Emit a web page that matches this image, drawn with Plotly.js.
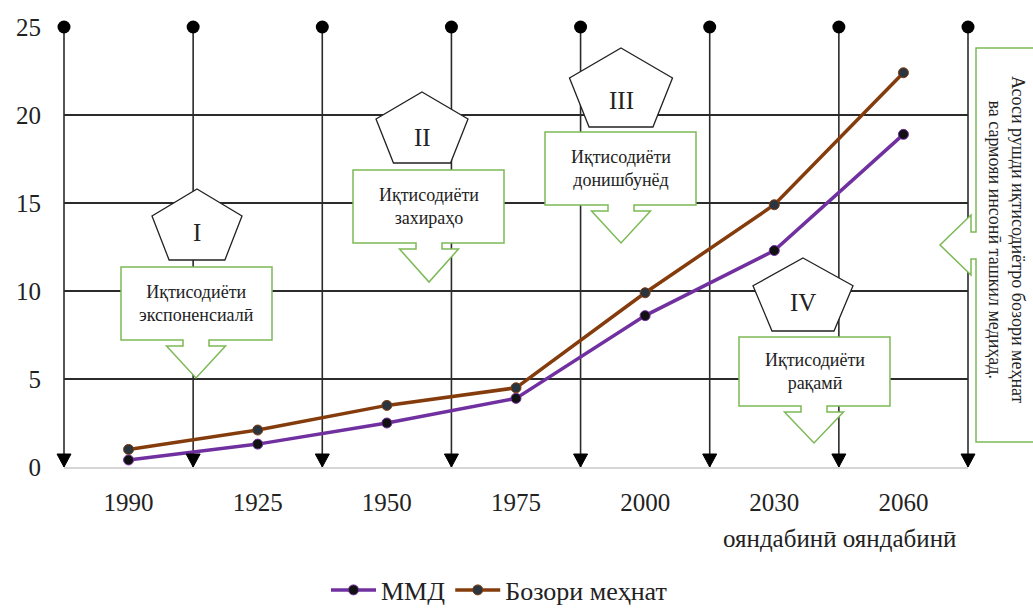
<!DOCTYPE html>
<html>
<head>
<meta charset="utf-8">
<script src="https://cdn.plot.ly/plotly-3.0.1.min.js"></script>
<style>html,body{margin:0;padding:0;background:#fff;}#chart{width:1033px;height:608px;}</style>
</head>
<body>
<div id="chart"></div>
<script>
// ---- data ----
const categories = ['1990', '1925', '1950', '1975', '2000', '2030', '2060'];
const mmdValues = [0.4, 1.3, 2.5, 3.9, 8.6, 12.3, 18.9];
const laborValues = [1.0, 2.1, 3.5, 4.5, 9.9, 14.9, 22.4];
const seriesNames = ['ММД', 'Бозори меҳнат'];
const stageNumerals = ['I', 'II', 'III', 'IV'];
const stageLabels = ['Иқтисодиёти<br>экспоненсиалӣ', 'Иқтисодиёти<br>захираҳо', 'Иқтисодиёти<br>донишбунёд', 'Иқтисодиёти<br>рақамӣ'];
const forecastLabel = 'ояндабинӣ ояндабинӣ';
const sideNote = 'Асоси рушди иқтисодиётро бозори меҳнат<br>ва сармояи инсонӣ ташкил медиҳад.';

// ---- layout geometry ----
const W = 1033, H = 608;
const L = 64, R = 968, T = 27, B = 467;
const px = x => (x - L) / (R - L);
const py = y => (B - y) / (B - T);
const FONT = 'Liberation Serif, Times New Roman, serif';
const GREEN = '#7cb955';
const idx = categories.map((c, i) => i);
const xMin = -0.5, xMax = categories.length - 0.5;
const bounds = [];
for (let i = 0; i <= categories.length; i++) bounds.push(i - 0.5);
const boundPaper = b => (b - xMin) / (xMax - xMin);

const shapes = [];
// vertical lines
bounds.forEach(b => {
  shapes.push({type: 'line', xref: 'paper', yref: 'paper', x0: boundPaper(b), x1: boundPaper(b), y0: 0, y1: 1,
    line: {color: '#2b2b2b', width: 1.6}, layer: 'below'});
  // arrow heads at bottom
  shapes.push({type: 'path', xref: 'paper', yref: 'paper', xsizemode: 'pixel', ysizemode: 'pixel',
    xanchor: boundPaper(b), yanchor: 0, path: 'M -7 13 L 7 13 L 0 0 Z',
    fillcolor: '#000', line: {color: '#000', width: 1}, layer: 'above'});
});

function pentagon(cx, top, w, h) {
  const pts = [[cx, top], [cx + w / 2, top + 0.38 * h], [cx + 0.31 * w, top + h],
               [cx - 0.31 * w, top + h], [cx - w / 2, top + 0.38 * h]];
  return 'M ' + pts.map(p => px(p[0]) + ' ' + py(p[1])).join(' L ') + ' Z';
}
function callout(x0, x1, y0, y1, cx, apex) {
  const pts = [[x0, y0], [x1, y0], [x1, y1], [cx + 13, y1], [cx + 13, y1 + 6], [cx + 29.5, y1 + 6],
    [cx, apex], [cx - 29.5, y1 + 6], [cx - 13, y1 + 6], [cx - 13, y1], [x0, y1]];
  return 'M ' + pts.map(p => px(p[0]) + ' ' + py(p[1])).join(' L ') + ' Z';
}
const pents = [[197, 189, 90, 71], [422, 92, 92, 71], [621, 48, 103, 79], [803, 258, 100, 73]];
const boxes = [[121, 272, 267, 340, 196, 378], [353, 504, 170, 243, 429, 282],
               [545, 696, 132, 205, 621, 243], [739, 890, 337, 406, 814, 443]];
pents.forEach(p => shapes.push({type: 'path', xref: 'paper', yref: 'paper', path: pentagon(...p),
  fillcolor: '#fff', line: {color: '#222', width: 1.3}, layer: 'above'}));
boxes.forEach(b => shapes.push({type: 'path', xref: 'paper', yref: 'paper', path: callout(...b),
  fillcolor: '#fff', line: {color: GREEN, width: 1.5}, layer: 'above'}));
// side note box with left arrow
const side = [[976, 48], [1045, 48], [1045, 442], [976, 442], [976, 259], [971, 259], [971, 275],
  [940, 245], [971, 215], [971, 232], [976, 232]];
shapes.push({type: 'path', xref: 'paper', yref: 'paper',
  path: 'M ' + side.map(p => px(p[0]) + ' ' + py(p[1])).join(' L ') + ' Z',
  fillcolor: '#fff', line: {color: GREEN, width: 1.5}, layer: 'above'});

const annotations = [];
const numCenters = [[197, 232], [422, 137], [621, 100], [803, 303]];
stageNumerals.forEach((t, i) => annotations.push({xref: 'paper', yref: 'paper',
  x: px(numCenters[i][0]), y: py(numCenters[i][1]), text: t, showarrow: false,
  font: {family: FONT, size: 25, color: '#222'}, xanchor: 'center', yanchor: 'middle'}));
stageLabels.forEach((t, i) => {
  const b = boxes[i];
  annotations.push({xref: 'paper', yref: 'paper', x: px((b[0] + b[1]) / 2), y: py((b[2] + b[3]) / 2),
    text: t, showarrow: false, align: 'center', font: {family: FONT, size: 18, color: '#222'},
    xanchor: 'center', yanchor: 'middle'});
});
annotations.push({xref: 'paper', yref: 'paper', x: px(839), y: py(538), text: forecastLabel,
  showarrow: false, font: {family: FONT, size: 25, color: '#222'}, xanchor: 'center', yanchor: 'middle'});
annotations.push({xref: 'paper', yref: 'paper', x: px(1007), y: py(240), text: sideNote,
  showarrow: false, textangle: 90, align: 'center', font: {family: FONT, size: 18, color: '#222'},
  xanchor: 'center', yanchor: 'middle'});

const traces = [
  {x: idx, y: mmdValues, name: seriesNames[0], type: 'scatter', mode: 'lines+markers',
   line: {color: '#7030a0', width: 3.5}, marker: {size: 10, color: '#111', line: {color: '#7030a0', width: 1}}},
  {x: idx, y: laborValues, name: seriesNames[1], type: 'scatter', mode: 'lines+markers',
   line: {color: '#843c0c', width: 3.5}, marker: {size: 10, color: '#2a3540', line: {color: '#843c0c', width: 1}}},
  {x: bounds, y: bounds.map(() => 25), type: 'scatter', mode: 'markers', showlegend: false,
   hoverinfo: 'skip', cliponaxis: false, marker: {size: 13, color: '#000'}}
];

const layout = {
  width: W, height: H,
  margin: {l: L, r: W - R, t: T, b: H - B, pad: 0, autoexpand: false},
  paper_bgcolor: '#fff', plot_bgcolor: '#fff',
  showlegend: true,
  legend: {orientation: 'h', xref: 'container', yref: 'container', x: 499 / W, xanchor: 'center',
    y: (H - 590) / H, yanchor: 'middle',
    font: {family: FONT, size: 26, color: '#222'}, traceorder: 'normal', itemwidth: 45, tracegroupgap: 0},
  xaxis: {type: 'linear', range: [xMin, xMax], tickvals: idx, ticktext: categories, showgrid: false,
    zeroline: false, showline: true, linecolor: '#d6d6d6', linewidth: 1.5, ticks: '',
    ticklabelstandoff: 12, tickfont: {family: FONT, size: 25, color: '#222'}, fixedrange: true},
  yaxis: {range: [0, 25], dtick: 5, tick0: 0, showgrid: true, gridcolor: '#2b2b2b', gridwidth: 1.6,
    zeroline: false, showline: false, ticks: '', ticklabelstandoff: 22,
    tickfont: {family: FONT, size: 25, color: '#222'}, fixedrange: true},
  shapes: shapes,
  annotations: annotations
};

Plotly.newPlot('chart', traces, layout, {displayModeBar: false, staticPlot: true});
</script>
</body>
</html>
